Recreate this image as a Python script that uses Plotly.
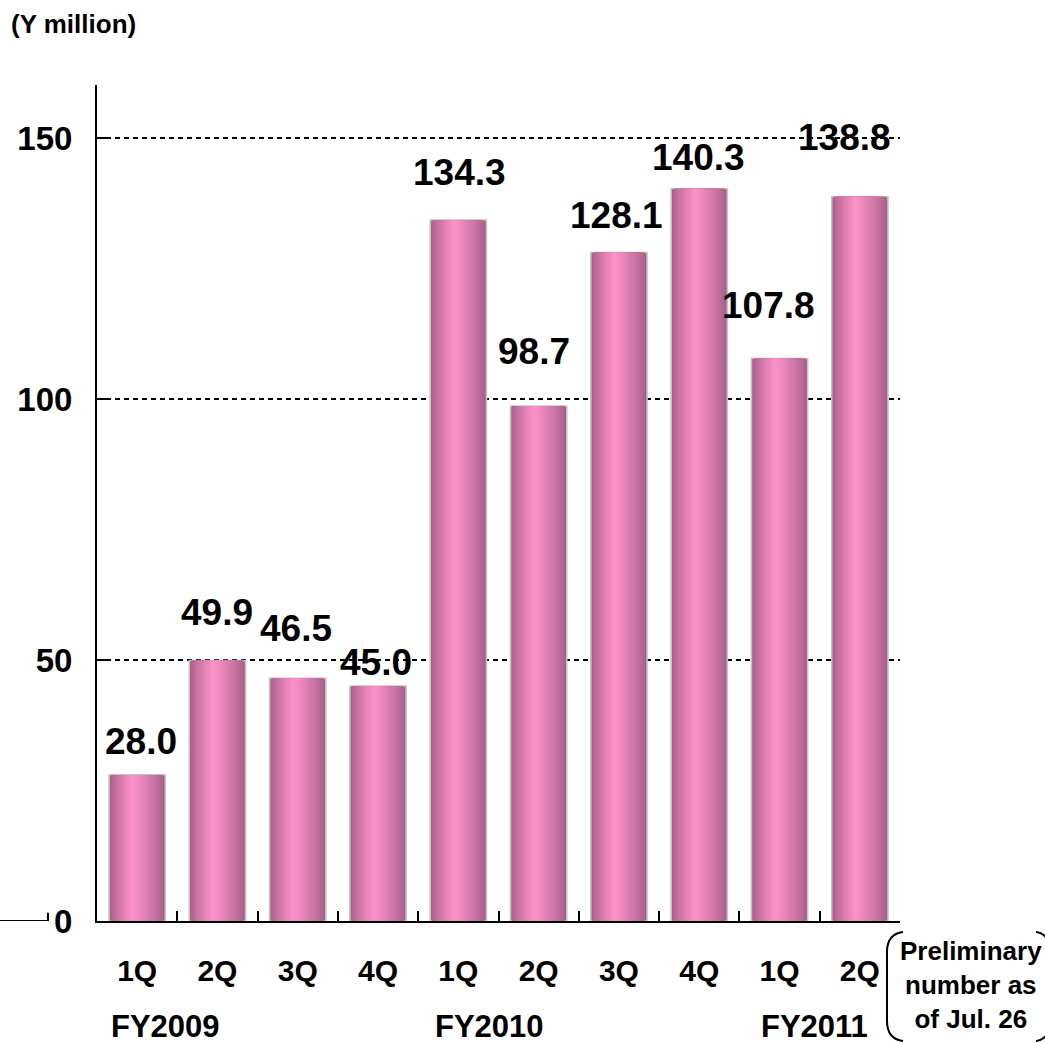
import plotly.graph_objects as go

# ---------------- data ----------------
categories = ["FY2009-1Q", "FY2009-2Q", "FY2009-3Q", "FY2009-4Q",
              "FY2010-1Q", "FY2010-2Q", "FY2010-3Q", "FY2010-4Q",
              "FY2011-1Q", "FY2011-2Q"]
quarter_labels = ["1Q", "2Q", "3Q", "4Q", "1Q", "2Q", "3Q", "4Q", "1Q", "2Q"]
values = [28.0, 49.9, 46.5, 45.0, 134.3, 98.7, 128.1, 140.3, 107.8, 138.8]
value_labels = ["28.0", "49.9", "46.5", "45.0", "134.3", "98.7", "128.1", "140.3", "107.8", "138.8"]
fiscal_years = ["FY2009", "FY2010", "FY2011"]
y_ticks = [0, 50, 100, 150]

# ---------------- label placement (style) ----------------
label_yshift = [33, 48, 50, 24, 48, 54, 37, 31, 53, 59]
label_xshift = [4, 0, -2, -2, 1, -5, -2, -1, -11, -15]
fy_positions = [0.35, 4.39, 8.44]

FONT = "Liberation Sans, Arial, sans-serif"

# plot area geometry in px
L, R, T, B = 97, 145, 85, 122
W, H = 1045, 1043
PW, PH = W - L - R, H - T - B


def xp(px):
    return (px - L) / PW


def yp(py):
    return (H - B - py) / PH


fig = go.Figure()

# gradient bars made of overlaid layers
dark_l = (170, 96, 138)
dark_r = (160, 90, 130)
light = (255, 148, 202)
bw = 0.70
half = bw / 2
peak = -half + 0.42 * bw
N = 16
for k in range(N):
    t = k / N
    left = -half + t * (peak + half)
    right = half - t * (half - peak)
    dk = tuple((a + b) / 2 for a, b in zip(dark_l, dark_r))
    s = t ** 0.8
    col = tuple(int(round(d + (l - d) * s)) for d, l in zip(dk, light))
    fig.add_trace(go.Bar(
        x=categories, y=values,
        width=right - left, offset=left,
        marker=dict(color="rgb(%d,%d,%d)" % col,
                    line=dict(color="#c4c4c4" if k == 0 else "rgba(0,0,0,0)",
                              width=1.6 if k == 0 else 0)),
        hoverinfo="skip", showlegend=False,
    ))

# value labels
for i, (c, v, lab) in enumerate(zip(categories, values, value_labels)):
    fig.add_annotation(x=c, y=v, text=lab, showarrow=False,
                       xref="x", yref="y", yanchor="middle",
                       yshift=label_yshift[i], xshift=label_xshift[i],
                       font=dict(family=FONT, size=37, color="black", weight="bold"))

# fiscal year group labels
for fy, pos in zip(fiscal_years, fy_positions):
    fig.add_annotation(x=pos, y=yp(1026), xref="x", yref="paper", text=fy,
                       showarrow=False, yanchor="middle",
                       font=dict(family=FONT, size=31, color="black", weight="bold"))

# unit label
fig.add_annotation(x=xp(9), y=yp(24), xref="paper", yref="paper",
                   text="(Y million)", showarrow=False, xanchor="left", yanchor="middle",
                   font=dict(family=FONT, size=26, color="black", weight="bold"))

# preliminary note
fig.add_annotation(x=xp(971), y=yp(985), xref="paper", yref="paper",
                   text="Preliminary<br>number as<br>of Jul. 26", showarrow=False,
                   xanchor="center", yanchor="middle",
                   font=dict(family=FONT, size=26, color="black", weight="bold"))


def pt(px, py):
    return "%.5f,%.5f" % (xp(px), yp(py))


left_br = ("M " + pt(903, 932) + " Q " + pt(887, 934) + " " + pt(887, 952) +
           " L " + pt(887, 1021) + " Q " + pt(887, 1039) + " " + pt(903, 1041))
right_br = ("M " + pt(1036, 932) + " Q " + pt(1050, 934) + " " + pt(1050, 952) +
            " L " + pt(1050, 1021) + " Q " + pt(1050, 1039) + " " + pt(1036, 1041))
for p in (left_br, right_br):
    fig.add_shape(type="path", path=p, xref="paper", yref="paper",
                  line=dict(color="black", width=2))

# stray baseline segment left of the axis
fig.add_shape(type="line", xref="paper", yref="y", x0=xp(0), x1=xp(48), y0=0, y1=0,
              line=dict(color="black", width=2))
fig.add_shape(type="line", xref="paper", yref="y", x0=xp(48), x1=xp(48), y0=0, y1=1.6,
              line=dict(color="black", width=2))

fig.update_layout(
    width=W, height=H,
    margin=dict(l=L, r=R, t=T, b=B, autoexpand=False),
    paper_bgcolor="white", plot_bgcolor="white",
    barmode="overlay",
    font=dict(family=FONT, color="black"),
    xaxis=dict(
        type="category", categoryorder="array", categoryarray=categories,
        tickvals=categories, ticktext=quarter_labels,
        tickson="boundaries", ticks="inside", ticklen=10, tickwidth=2, tickcolor="black",
        showline=True, linecolor="black", linewidth=2,
        showgrid=False, zeroline=False,
        tickfont=dict(family=FONT, size=30, color="black", weight="bold"),
        ticklabelstandoff=22,
        range=[-0.5, 9.5],
    ),
    yaxis=dict(
        range=[0, 160.2], tickvals=y_ticks, ticktext=[str(v) for v in y_ticks],
        ticks="inside", ticklen=12, tickwidth=2, tickcolor="black",
        showline=True, linecolor="black", linewidth=2,
        showgrid=True, gridcolor="black", gridwidth=1.5, griddash="5px,4px",
        zeroline=False,
        tickfont=dict(family=FONT, size=33, color="black", weight="bold"),
        ticklabelstandoff=16,
    ),
)

fig.write_html("out.html")
